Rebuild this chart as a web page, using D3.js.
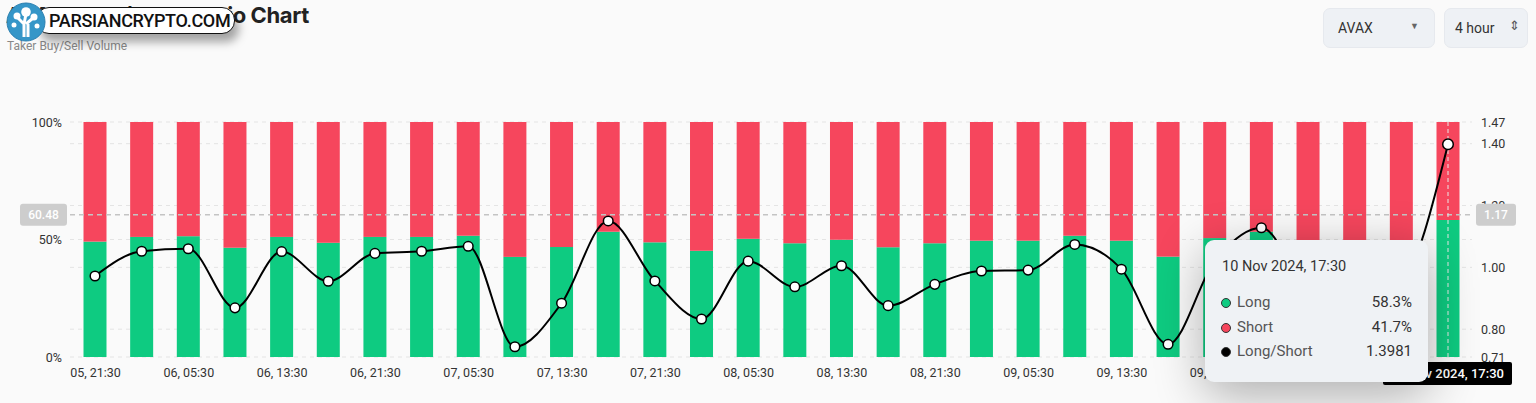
<!DOCTYPE html>
<html>
<head>
<meta charset="utf-8">
<script src="https://cdn.jsdelivr.net/npm/d3@7"></script>
<style>
  body { margin:0; background:#fafafa; font-family: Roboto, "Noto Sans", sans-serif; }
  #wrap { position:relative; width:1536px; height:403px; overflow:hidden; }
  .title { position:absolute; left:6px; top:2px; font-family:Inter, sans-serif; font-weight:700; font-size:22px; color:#222; letter-spacing:-0.4px; }
  .sub { position:absolute; left:7px; top:39px; font-size:12px; color:#888; }
  .sel { position:absolute; top:8px; height:40px; background:#eef1f5; border-radius:7px; font-size:14px; color:#333; box-sizing:border-box; border:1px solid #e6e9ee; }
  .wm { position:absolute; left:36px; top:7px; width:199px; height:27px; background:#fff; border:1.5px solid #111; border-radius:13px; box-shadow:4px 8px 10px rgba(0,0,0,0.35); font-family:Roboto, sans-serif; font-weight:500; font-size:18px; color:#111; line-height:25px; padding-left:12px; box-sizing:border-box; letter-spacing:-0.3px; }
  .tip { position:absolute; left:1205px; top:240px; width:223px; height:142px; background:#eff2f5; border-radius:9px; box-shadow:0 12px 50px rgba(0,0,0,0.32); font-family:Roboto, sans-serif; color:#333; }
  .xlab { position:absolute; left:1383px; top:362px; width:129px; height:23px; background:#000; border-radius:2px; color:#fff; font-size:13px; font-weight:500; line-height:23px; text-align:center; }
</style>
</head>
<body>
<div id="wrap"></div>
<script>
// bar times (4 hour), label shown every second bar
var times = ["05, 21:30","06, 01:30","06, 05:30","06, 09:30","06, 13:30","06, 17:30","06, 21:30","07, 01:30",
  "07, 05:30","07, 09:30","07, 13:30","07, 17:30","07, 21:30","08, 01:30","08, 05:30","08, 09:30",
  "08, 13:30","08, 17:30","08, 21:30","09, 01:30","09, 05:30","09, 09:30","09, 13:30","09, 17:30",
  "09, 21:30","10, 01:30","10, 05:30","10, 09:30","10, 13:30","10, 17:30"];
// long share in %
var longPct = [49.1,51.1,51.4,46.5,51.1,48.6,51.1,51.1,51.6,42.6,46.8,53.3,48.8,45.2,50.3,
  48.4,49.9,46.7,48.4,49.5,49.5,51.6,49.5,42.7,50.6,53.3,48.2,46.8,48.7,58.3];
// long/short ratio
var ratio = [0.972,1.052,1.060,0.869,1.051,0.955,1.045,1.052,1.068,0.743,0.884,1.150,0.956,0.833,1.020,
  0.937,1.005,0.876,0.945,0.988,0.991,1.074,0.994,0.751,1.02,1.128,0.93,0.88,0.95,1.3981];
var leftTicks = [0, 50, 100];
var rightTicks = [0.71, 0.80, 1.00, 1.20, 1.40, 1.47];

var GREEN = "#0ecb81", RED = "#f6465d";
var W = 1536, H = 403;
var plotTop = 122, plotBottom = 357;

var wrap = d3.select("#wrap");

wrap.append("div").attr("class","title").text("AVAX Long/Short Ratio Chart");
wrap.append("div").attr("class","sub").text("Taker Buy/Sell Volume");

// select boxes top right
var s1 = wrap.append("div").attr("class","sel").style("left","1323px").style("width","112px");
s1.append("span").style("position","absolute").style("left","14px").style("top","11px").text("AVAX");
s1.append("span").style("position","absolute").style("left","86px").style("top","12px").style("font-size","9px").style("color","#666").text("▼");
var s2 = wrap.append("div").attr("class","sel").style("left","1444px").style("width","84px");
s2.append("span").style("position","absolute").style("left","10px").style("top","11px").text("4 hour");
s2.append("span").style("position","absolute").style("left","64px").style("top","9px").style("font-size","13px").style("color","#555").text("⇕");

var svg = wrap.append("svg")
  .attr("width", W).attr("height", H)
  .style("position","absolute").style("left",0).style("top",0);

var x = d3.scalePoint().domain(times).range([95, 1448]);
var yL = d3.scaleLinear().domain([0, 100]).range([plotBottom, plotTop]);
var yR = d3.scaleLinear().domain([0.71, 1.47]).range([plotBottom, plotTop]);
var bw = 23;

// grid
var grid = svg.append("g");
var gridYs = leftTicks.map(yL).concat(rightTicks.slice(1, 5).map(yR));
grid.selectAll("line").data(gridYs).enter().append("line")
  .attr("x1", 70).attr("x2", 1472)
  .attr("y1", function(d){ return d; }).attr("y2", function(d){ return d; })
  .attr("stroke", "#e4e4e4").attr("stroke-dasharray", "4,4");

// stacked bars
var bars = svg.append("g");
bars.selectAll(".long").data(times).enter().append("rect")
  .attr("x", function(d){ return x(d) - bw/2; })
  .attr("width", bw)
  .attr("y", function(d, i){ return yL(longPct[i]); })
  .attr("height", function(d, i){ return yL(0) - yL(longPct[i]); })
  .attr("fill", GREEN);
bars.selectAll(".short").data(times).enter().append("rect")
  .attr("x", function(d){ return x(d) - bw/2; })
  .attr("width", bw)
  .attr("y", yL(100))
  .attr("height", function(d, i){ return yL(longPct[i]) - yL(100); })
  .attr("fill", RED);

// crosshair
svg.append("line").attr("x1", 70).attr("x2", 1472).attr("y1", yL(60.48)).attr("y2", yL(60.48))
  .attr("stroke", "#c4c4c4").attr("stroke-width", 1.5).attr("stroke-dasharray", "5,4");
svg.append("line").attr("x1", x(times[29])).attr("x2", x(times[29])).attr("y1", plotTop).attr("y2", plotBottom)
  .attr("stroke", "#e8e8e8").attr("stroke-width", 1).attr("stroke-dasharray", "4,3");

// ratio line
var line = d3.line()
  .x(function(d, i){ return x(times[i]); })
  .y(function(d){ return yR(d); })
  .curve(d3.curveMonotoneX);
svg.append("path").datum(ratio).attr("d", line)
  .attr("fill", "none").attr("stroke", "#000").attr("stroke-width", 2);
svg.selectAll(".pt").data(ratio).enter().append("circle")
  .attr("cx", function(d, i){ return x(times[i]); })
  .attr("cy", function(d){ return yR(d); })
  .attr("r", function(d, i){ return i == 29 ? 5.3 : 4.8; })
  .attr("fill", "#fff").attr("stroke", "#000").attr("stroke-width", 1.5);

// axes
var axL = svg.append("g").attr("transform", "translate(62,0)")
  .call(d3.axisLeft(yL).tickValues(leftTicks).tickFormat(function(d){ return d + "%"; }).tickSize(0).tickPadding(0));
var axR = svg.append("g").attr("transform", "translate(1481,0)")
  .call(d3.axisRight(yR).tickValues(rightTicks).tickFormat(d3.format(".2f")).tickSize(0).tickPadding(0));
var axB = svg.append("g").attr("transform", "translate(0,368)")
  .call(d3.axisBottom(x).tickValues(times.filter(function(d, i){ return i % 2 == 0; })).tickSize(0).tickPadding(0));
[axL, axR, axB].forEach(function(a){
  a.select(".domain").remove();
  a.selectAll("text").attr("fill", "#333").style("font-size", "12.5px").style("font-family", "Roboto, sans-serif");
});

// value badges
function badge(cx, w, txt){
  var g = svg.append("g").attr("transform", "translate(" + cx + "," + yL(60.48) + ")");
  g.append("rect").attr("x", -w/2).attr("y", -11).attr("width", w).attr("height", 22).attr("rx", 3).attr("fill", "#cdcdcd");
  g.append("text").attr("text-anchor", "middle").attr("dy", "0.35em").attr("fill", "#fff")
    .style("font-size", "12px").style("font-weight", "500").text(txt);
}
badge(43.5, 47, "60.48");
badge(1496, 40, "1.17");

// bottom time label
wrap.append("div").attr("class","xlab").text("10 Nov 2024, 17:30");

// tooltip
var tip = wrap.append("div").attr("class","tip");
tip.append("div").style("position","absolute").style("left","17px").style("top","18px")
  .style("font-size","14.5px").style("color","#333").text("10 Nov 2024, 17:30");
var rows = [["Long", GREEN, longPct[29].toFixed(1) + "%"], ["Short", RED, (100 - longPct[29]).toFixed(1) + "%"], ["Long/Short", "#000", ratio[29].toFixed(4)]];
rows.forEach(function(r, i){
  var row = tip.append("div").style("position","absolute").style("left","16px").style("top", (53 + i*24.5) + "px")
    .style("width","191px").style("height","20px");
  row.append("span").style("position","absolute").style("left","0px").style("top","5px")
    .style("width","8px").style("height","8px").style("border-radius","50%")
    .style("background", r[1]).style("border","1.5px solid #333");
  row.append("span").style("position","absolute").style("left","16px").style("top","0px")
    .style("font-size","15px").style("color","#555").text(r[0]);
  row.append("span").style("position","absolute").style("right","0px").style("top","0px")
    .style("font-size","15px").style("color","#333").text(r[2]);
});

// watermark
wrap.append("div").attr("class","wm").text("PARSIANCRYPTO.COM");
var logoSvg = wrap.append("svg").attr("width", 60).attr("height", 50)
  .style("position","absolute").style("left",0).style("top",0);
var logo = logoSvg.append("g").attr("transform", "translate(26,22)");
logo.append("circle").attr("r", 19).attr("fill", "#3596c8").attr("stroke", "#2a7fb0").attr("stroke-width", 1);
logo.append("path").attr("d", "M-2,15 L-2,2 L-9,-5 M-2,2 L0,-8 M0,2 L7,-4 M2,15 L2,2").attr("stroke", "#fff").attr("stroke-width", 3).attr("fill", "none");
[[-9,-6,3.5],[0,-10,4.8],[8,-5,3.5],[-12,3,2.5],[11,4,2.5]].forEach(function(c){
  logo.append("circle").attr("cx", c[0]).attr("cy", c[1]).attr("r", c[2]).attr("fill", "#fff");
});
</script>
</body>
</html>
